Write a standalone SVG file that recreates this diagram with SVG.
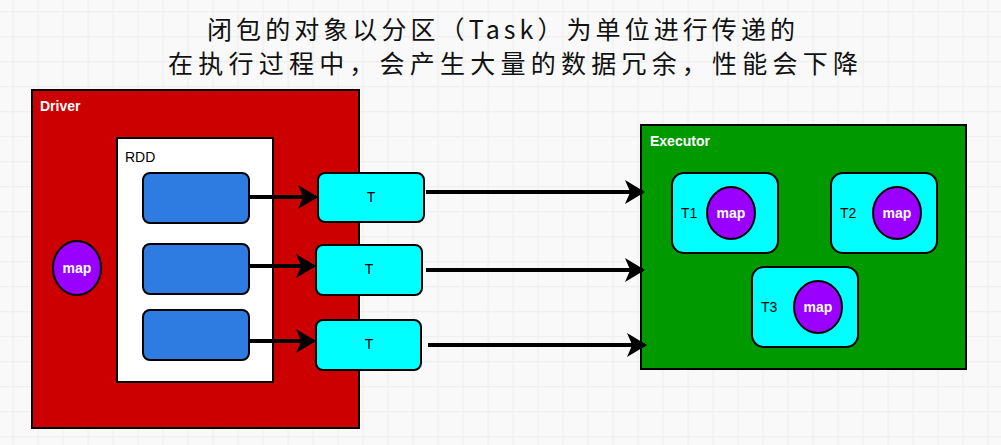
<svg xmlns="http://www.w3.org/2000/svg" width="1001" height="445" viewBox="0 0 1001 445">
<defs>
<pattern id="grid" x="0" y="0" width="25" height="25" patternUnits="userSpaceOnUse" patternTransform="translate(12.5 11)">
<rect width="25" height="25" fill="#f9f9f9"/>
<path d="M0 0.5H25M0.5 0V25" stroke="#efefef" stroke-width="1.5" fill="none"/>
</pattern>
<marker id="ah" markerWidth="6" markerHeight="6" refX="4.5" refY="3" orient="auto" markerUnits="strokeWidth">
<path d="M0 0 L5 3 L0 6 L1.3 3 Z" fill="#000"/>
</marker>
<style>
.box{stroke:#000;stroke-width:2}
.part{fill:#2e7be2;stroke:#000;stroke-width:2}
.task{fill:#00ffff;stroke:#000;stroke-width:2}
.mapc{fill:#9900ff;stroke:#000;stroke-width:2}
.maptx{font-family:"Liberation Sans",Arial,sans-serif;font-weight:bold;font-size:14px;fill:#fff;text-anchor:middle}
.lbl{font-family:"Liberation Sans",Arial,sans-serif;font-size:14px;fill:#000}
.wlbl{font-family:"Liberation Sans",Arial,sans-serif;font-weight:bold;font-size:14px;fill:#fff}
.title{font-family:"Noto Sans CJK SC","Noto Sans",sans-serif;font-size:25px;fill:#111;text-anchor:middle}
.conn{stroke:#000;stroke-width:4;fill:none;marker-end:url(#ah)}
</style>
</defs>
<rect width="1001" height="445" fill="url(#grid)"/>

<g id="title">
<text class="title" x="501" y="39" textLength="588" lengthAdjust="spacing">闭包的对象以分区（Task）为单位进行传递的</text>
<text class="title" x="513" y="73" textLength="690" lengthAdjust="spacing">在执行过程中，会产生大量的数据冗余，性能会下降</text>
</g>

<g id="driver">
<rect class="box" x="32" y="90" width="327" height="338" fill="#cc0000"/>
<text class="wlbl" x="40" y="111">Driver</text>
</g>
<g id="driver-map">
<ellipse class="mapc" cx="77" cy="268" rx="24" ry="27"/>
<text class="maptx" x="77" y="273">map</text>
</g>
<g id="rdd">
<rect class="box" x="117" y="138" width="156" height="244" fill="#fff"/>
<text class="lbl" x="125" y="162">RDD</text>
</g>
<g id="p1"><rect class="part" x="143" y="173" width="106" height="50" rx="7"/></g>
<g id="p2"><rect class="part" x="143" y="244" width="106" height="50" rx="7"/></g>
<g id="p3"><rect class="part" x="143" y="310" width="106" height="50" rx="7"/></g>

<g id="t1"><rect class="task" x="318" y="173" width="106" height="49" rx="7"/><text class="lbl" x="371" y="202" text-anchor="middle">T</text></g>
<g id="t2"><rect class="task" x="316" y="245" width="106" height="50" rx="7"/><text class="lbl" x="369" y="274" text-anchor="middle">T</text></g>
<g id="t3"><rect class="task" x="316" y="320" width="105" height="50" rx="7"/><text class="lbl" x="369" y="349" text-anchor="middle">T</text></g>

<g id="executor">
<rect class="box" x="641" y="125" width="325" height="244" fill="#009900"/>
<text class="wlbl" x="650" y="146">Executor</text>
</g>
<g id="e1">
<rect class="task" x="672" y="173" width="106" height="80" rx="12"/>
<text class="lbl" x="681" y="218">T1</text>
<ellipse class="mapc" cx="731" cy="213" rx="24" ry="26"/>
<text class="maptx" x="731" y="218">map</text>
</g>
<g id="e2">
<rect class="task" x="831" y="173" width="106" height="80" rx="12"/>
<text class="lbl" x="840" y="218">T2</text>
<ellipse class="mapc" cx="897" cy="213" rx="24" ry="26"/>
<text class="maptx" x="897" y="218">map</text>
</g>
<g id="e3">
<rect class="task" x="752" y="267" width="106" height="80" rx="12"/>
<text class="lbl" x="761" y="312">T3</text>
<ellipse class="mapc" cx="818" cy="307" rx="24" ry="26"/>
<text class="maptx" x="818" y="312">map</text>
</g>

<g id="connectors">
<line class="conn" x1="249" y1="197" x2="316" y2="197"/>
<line class="conn" x1="249" y1="266" x2="314" y2="266"/>
<line class="conn" x1="249" y1="341" x2="314" y2="341"/>
<line class="conn" x1="426" y1="192" x2="643" y2="192"/>
<line class="conn" x1="426" y1="270" x2="643" y2="270"/>
<line class="conn" x1="428" y1="345" x2="645" y2="345"/>
</g>
</svg>
